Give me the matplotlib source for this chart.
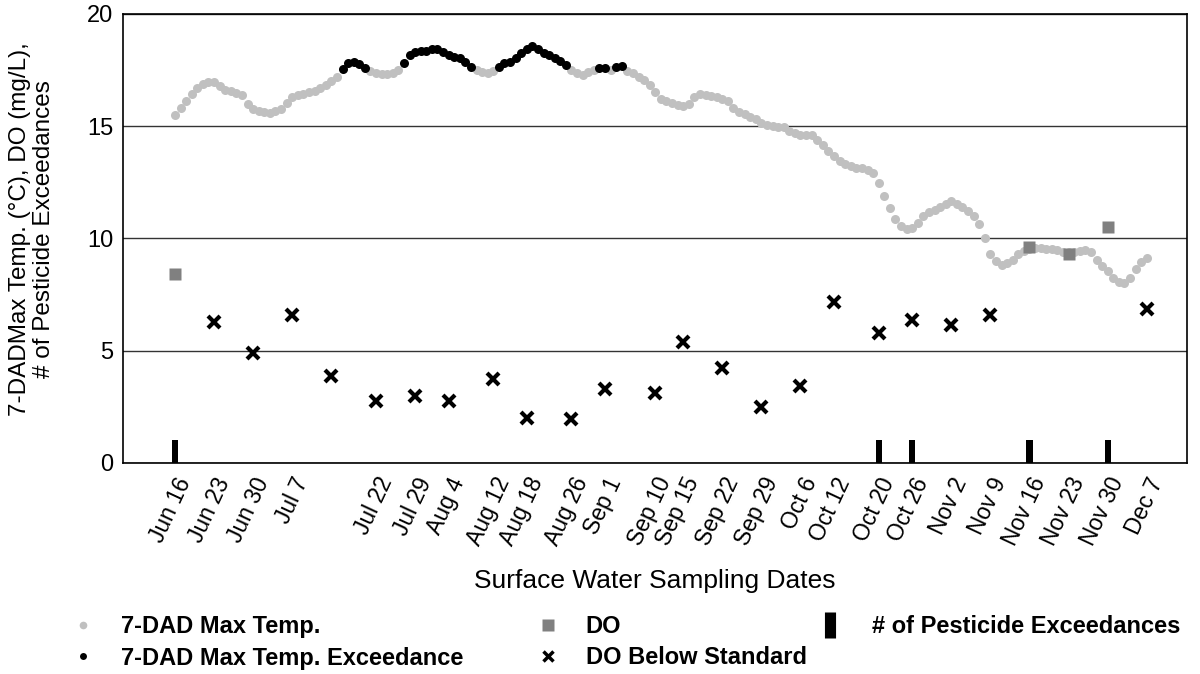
import matplotlib
matplotlib.use("Agg")
import matplotlib.pyplot as plt
import matplotlib.dates as mdates
import numpy as np
import pandas as pd
from matplotlib.lines import Line2D

plt.rcParams['font.family'] = ['Liberation Sans', 'DejaVu Sans']

# ---------------- data ----------------
temp_start = "2015-06-16"
temp_values = [
    15.50, 15.82, 16.10, 16.42, 16.72, 16.88, 16.95, 16.98, 16.78, 16.62,
    16.55, 16.48, 16.38, 16.00, 15.75, 15.68, 15.64, 15.60, 15.66, 15.78,
    16.05, 16.28, 16.38, 16.44, 16.50, 16.58, 16.68, 16.85, 17.00, 17.20,
    17.55, 17.80, 17.86, 17.75, 17.60, 17.45, 17.35, 17.30, 17.30, 17.36,
    17.48, 17.80, 18.18, 18.32, 18.34, 18.36, 18.45, 18.42, 18.28, 18.15,
    18.10, 18.05, 17.87, 17.65, 17.50, 17.42, 17.36, 17.45, 17.62, 17.80,
    17.87, 18.05, 18.25, 18.42, 18.58, 18.45, 18.25, 18.15, 18.05, 17.90,
    17.72, 17.50, 17.38, 17.28, 17.40, 17.48, 17.57, 17.58, 17.50, 17.65,
    17.70, 17.45, 17.35, 17.20, 17.05, 16.85, 16.50, 16.20, 16.10, 16.02,
    15.95, 15.90, 15.98, 16.28, 16.42, 16.40, 16.33, 16.28, 16.22, 16.13,
    15.80, 15.65, 15.55, 15.42, 15.30, 15.12, 15.05, 15.00, 14.98, 14.95,
    14.80, 14.70, 14.62, 14.62, 14.62, 14.38, 14.15, 13.90, 13.68, 13.45,
    13.30, 13.22, 13.15, 13.12, 13.04, 12.90, 12.45, 11.90, 11.35, 10.85,
    10.55, 10.40, 10.45, 10.70, 10.98, 11.15, 11.28, 11.40, 11.55, 11.68,
    11.52, 11.38, 11.20, 10.98, 10.62, 10.00, 9.28, 8.98, 8.82, 8.90,
    9.05, 9.28, 9.42, 9.51, 9.55, 9.55, 9.54, 9.52, 9.46, 9.40,
    9.40, 9.40, 9.45, 9.47, 9.38, 9.05, 8.78, 8.55, 8.25, 8.05,
    8.00, 8.22, 8.65, 8.95, 9.10,
]
temp_standard = 17.5

do_dates = ["2015-06-16", "2015-11-16", "2015-11-23", "2015-11-30"]
do_values = [8.4, 9.6, 9.3, 10.5]

do_low_dates = ["2015-06-23", "2015-06-30", "2015-07-07", "2015-07-14",
                "2015-07-22", "2015-07-29", "2015-08-04", "2015-08-12",
                "2015-08-18", "2015-08-26", "2015-09-01", "2015-09-10",
                "2015-09-15", "2015-09-22", "2015-09-29", "2015-10-06",
                "2015-10-12", "2015-10-20", "2015-10-26", "2015-11-02",
                "2015-11-09", "2015-12-07"]
do_low_values = [6.27, 4.9, 6.56, 3.87, 2.77, 2.97, 2.73, 3.75,
                 1.97, 1.93, 3.3, 3.1, 5.4, 4.2, 2.47, 3.4,
                 7.17, 5.8, 6.38, 6.12, 6.56, 6.83]

pest_dates = ["2015-06-16", "2015-10-20", "2015-10-26", "2015-11-16", "2015-11-30"]
pest_counts = [1, 1, 1, 1, 1]

tick_dates = ["2015-06-16", "2015-06-23", "2015-06-30", "2015-07-07",
              "2015-07-22", "2015-07-29", "2015-08-04", "2015-08-12",
              "2015-08-18", "2015-08-26", "2015-09-01", "2015-09-10",
              "2015-09-15", "2015-09-22", "2015-09-29", "2015-10-06",
              "2015-10-12", "2015-10-20", "2015-10-26", "2015-11-02",
              "2015-11-09", "2015-11-16", "2015-11-23", "2015-11-30",
              "2015-12-07"]
tick_labels = ["Jun 16", "Jun 23", "Jun 30", "Jul 7", "Jul 22", "Jul 29",
               "Aug 4", "Aug 12", "Aug 18", "Aug 26", "Sep 1", "Sep 10",
               "Sep 15", "Sep 22", "Sep 29", "Oct 6", "Oct 12", "Oct 20",
               "Oct 26", "Nov 2", "Nov 9", "Nov 16", "Nov 23", "Nov 30",
               "Dec 7"]

ylabel_lines = ["7-DADMax Temp. (°C), DO (mg/L),", "# of Pesticide Exceedances"]

# ---------------- plot ----------------
W, H = 1200, 674
fig = plt.figure(figsize=(W / 100, H / 100), dpi=100)
ax = fig.add_axes([123 / W, 1 - 462.7 / H, (1187 - 123) / W, (462.7 - 13.9) / H])

t_dates = pd.date_range(temp_start, periods=len(temp_values), freq="D")
t_vals = np.array(temp_values)
exc = t_vals > temp_standard

LIGHT = "#C0C0C0"
MID = "#808080"

ax.bar(pd.to_datetime(pest_dates), pest_counts, width=1.1, color="black", zorder=3)
ax.plot(t_dates[~exc], t_vals[~exc], "o", color=LIGHT, ms=6.5, mec="none", zorder=4)
ax.plot(t_dates[exc], t_vals[exc], "o", color="black", ms=6.5, mec="none", zorder=4)
ax.plot(pd.to_datetime(do_dates), do_values, "s", color=MID, ms=8.5, mec="none", zorder=5)
ax.plot(pd.to_datetime(do_low_dates), do_low_values, "x", color="black", ms=8, mew=3, zorder=5)

base = mdates.date2num(pd.Timestamp(temp_start))
ax.set_xlim(base - 9.3, base + 181.2)
ax.set_ylim(0, 20)
ax.set_yticks([0, 5, 10, 15, 20])
ax.yaxis.grid(True, color="#333333", lw=1)
ax.set_axisbelow(True)
ax.set_xticks(pd.to_datetime(tick_dates))
ax.set_xticklabels(tick_labels, rotation=65, ha="right", rotation_mode="anchor",
                   fontsize=16.5)
ax.tick_params(axis="y", length=0, labelsize=17, pad=7)
ax.tick_params(axis="x", length=0, pad=8)
for s in ax.spines.values():
    s.set_color("black")
    s.set_linewidth(1.2)

# y-axis title: two rotated lines
fig.text(20 / W, 1 - 229 / H, ylabel_lines[0], rotation=90, ha="center",
         va="center", fontsize=17.5)
fig.text(44 / W, 1 - 229 / H, ylabel_lines[1], rotation=90, ha="center",
         va="center", fontsize=17.5)
ax.set_xlabel("Surface Water Sampling Dates", fontsize=19, labelpad=14)

# legend in three separately placed columns
leg_kw = dict(loc="upper left", frameon=False, borderpad=0, borderaxespad=0,
              prop={"size": 17, "weight": "bold"},
              handlelength=1.0, handletextpad=1.1, labelspacing=0.36)
col1 = [Line2D([], [], ls="none", marker="o", color=LIGHT, ms=5.5, mec="none"),
        Line2D([], [], ls="none", marker="o", color="black", ms=5, mec="none")]
col2 = [Line2D([], [], ls="none", marker="s", color=MID, ms=8.5, mec="none"),
        Line2D([], [], ls="none", marker="x", color="black", ms=7, mew=2.5)]
col3 = [Line2D([], [], ls="none", marker="|", color="black", ms=19, mew=8)]
top = 1 - 615 / H
fig.legend(col1, ["7-DAD Max Temp.", "7-DAD Max Temp. Exceedance"],
           bbox_to_anchor=(71 / W, top), **leg_kw)
fig.legend(col2, ["DO", "DO Below Standard"],
           bbox_to_anchor=(536 / W, top), **leg_kw)
fig.legend(col3, ["# of Pesticide Exceedances"],
           bbox_to_anchor=(818 / W, top),
           **{**leg_kw, "handletextpad": 1.3})

fig.savefig("out.png", dpi=100)
